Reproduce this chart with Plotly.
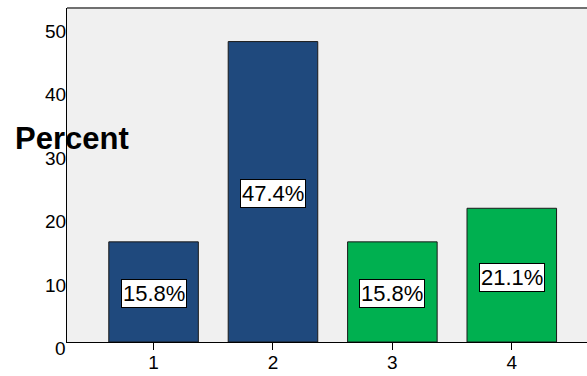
import plotly.graph_objects as go

categories = [1, 2, 3, 4]
percents = [15.8, 47.4, 15.8, 21.1]
bar_colors = ["#1F497D", "#1F497D", "#00B050", "#00B050"]
labels = ["15.8%", "47.4%", "15.8%", "21.1%"]
ytick_vals = [0, 10, 20, 30, 40, 50]
ytick_text = ["0", "10", "20", "30", "40", "50"]
xtick_text = ["1", "2", "3", "4"]

FONT = "Liberation Sans, Arial, sans-serif"

fig = go.Figure()
fig.add_trace(go.Bar(
    x=categories, y=percents,
    marker=dict(color=bar_colors, line=dict(color="#1a1a1a", width=1)),
    width=0.75, hoverinfo="skip",
))

annotations = []
for c, v, t in zip(categories, percents, labels):
    annotations.append(dict(
        x=c, y=v / 2, xref="x", yref="y", text=t, showarrow=False,
        font=dict(family=FONT, size=22, color="black"),
        bgcolor="white", bordercolor="black", borderwidth=1, borderpad=1,
        yshift=-2,
    ))
for v, t in zip(ytick_vals, ytick_text):
    annotations.append(dict(
        x=0, y=v, xref="paper", yref="y", text=t, showarrow=False,
        xanchor="right", yanchor="top", xshift=1, yshift=6,
        font=dict(family=FONT, size=19, color="black"),
    ))
annotations.append(dict(
    x=0.01, y=0.61, xref="paper", yref="paper", text="<b>Percent</b>",
    showarrow=False, xanchor="center", yanchor="middle",
    font=dict(family=FONT, size=31, color="black"),
))

fig.update_layout(
    width=587, height=376,
    margin=dict(l=67, r=0, t=8, b=34),
    paper_bgcolor="white", plot_bgcolor="#F0F0F0",
    showlegend=False,
    annotations=annotations,
    shapes=[dict(type="line", xref="paper", yref="paper", x0=0, x1=1, y0=1, y1=1,
                 line=dict(color="#707070", width=2))],
    xaxis=dict(
        range=[0.275, 4.63], tickvals=categories, ticktext=xtick_text,
        showgrid=False, zeroline=False, showline=True, linecolor="black", linewidth=1,
        ticks="outside", ticklen=7, tickcolor="black", tickwidth=1,
        ticklabelstandoff=-4,
        tickfont=dict(family=FONT, size=19, color="black"),
    ),
    yaxis=dict(
        range=[0, 52.7], tickvals=ytick_vals, showticklabels=False,
        showgrid=False, zeroline=False, showline=True, linecolor="black", linewidth=1,
        ticks="",
    ),
)

fig.write_html("out.html", config={"displayModeBar": False},
               post_script="document.body.style.margin='0px';document.body.style.overflow='hidden';")
